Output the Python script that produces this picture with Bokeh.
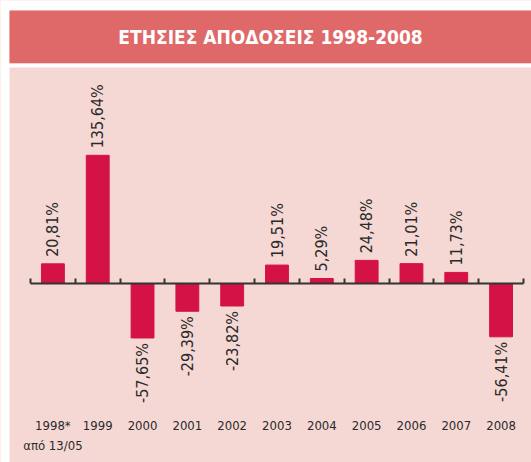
import math
from bokeh.plotting import figure
from bokeh.models import LinearAxis, FixedTicker, Label, Range1d, ColumnDataSource, BoxAnnotation
from bokeh.embed import file_html
from bokeh.resources import INLINE
from bokeh.core.properties import value

# ---- data ----
years = ["1998*", "1999", "2000", "2001", "2002", "2003", "2004", "2005", "2006", "2007", "2008"]
returns = [20.81, 135.64, -57.65, -29.39, -23.82, 19.51, 5.29, 24.48, 21.01, 11.73, -56.41]
value_labels = ["20,81%", "135,64%", "-57,65%", "-29,39%", "-23,82%", "19,51%",
                "5,29%", "24,48%", "21,01%", "11,73%", "-56,41%"]
title_text = "ΕΤΗΣΙΕΣ ΑΠΟΔΟΣΕΙΣ 1998-2008"
note_text = "από 13/05"

# ---- style ----
FONT = "DejaVu Sans Condensed"
TITLE_BG = "#DF6869"
PANEL_BG = "#F5D8D4"
BAR = "#D41245"
TXT = "#2A2A2A"
AXIS = "#333333"

# ---- layout (pixels inside the figure) ----
W, H = 531, 462
left_pad, right_pad = 30, 8     # frame edge -> first / last category boundary
zero_px = 283                    # zero line, from top of figure
k = 0.945                        # px per percentage point
n = len(years)
sx = (W - left_pad - right_pad) / n
x0, x1 = -left_pad / sx, n + right_pad / sx

def py(px_from_top):
    """pixel row (from top of figure) -> data y"""
    return (zero_px - px_from_top) / k

def px(px_from_left):
    """pixel column (from left of figure) -> data x"""
    return x0 + px_from_left / sx

p = figure(width=W, height=H,
           x_range=Range1d(x0, x1), y_range=Range1d(py(H), py(0)),
           x_axis_type=None, y_axis_type=None, toolbar_location=None,
           output_backend="svg", min_border=0,
           background_fill_color=PANEL_BG, border_fill_color=PANEL_BG,
           outline_line_color=None)
p.grid.visible = False

# page margins and title strip: white margin, red band, white gap
p.add_layout(BoxAnnotation(right=px(9), fill_color="white", fill_alpha=1, line_color=None))
p.add_layout(BoxAnnotation(bottom=py(10), fill_color="white", fill_alpha=1, line_color=None))
p.add_layout(BoxAnnotation(left=px(9), bottom=py(63), top=py(10), fill_color=TITLE_BG,
                           fill_alpha=1, line_color=None))
p.add_layout(BoxAnnotation(bottom=py(67), top=py(63), fill_color="white", fill_alpha=1,
                           line_color=None))
p.add_layout(Label(x=px(270), y=py(36.5), text=title_text, text_align="center",
                   text_baseline="middle", text_color="white",
                   text_font=FONT, text_font_style="bold", text_font_size="19px"))

centers = [i + 0.5 for i in range(n)]
p.vbar(x=centers, top=returns, bottom=0, width=0.51, color=BAR)

# zero line spanning the categories
p.segment(x0=[0], y0=[0], x1=[n], y1=[0], line_width=2, line_color=AXIS)

pos = ColumnDataSource(dict(
    x=[c for c, v in zip(centers, returns) if v >= 0],
    y=[v for v in returns if v >= 0],
    t=[l for l, v in zip(value_labels, returns) if v >= 0]))
neg = ColumnDataSource(dict(
    x=[c for c, v in zip(centers, returns) if v < 0],
    y=[v for v in returns if v < 0],
    t=[l for l, v in zip(value_labels, returns) if v < 0]))

p.text(x="x", y="y", text="t", source=pos, angle=math.pi / 2,
       text_align="left", text_baseline="middle", y_offset=-7,
       text_font=value(FONT), text_font_size="16px", text_color=TXT)
p.text(x="x", y="y", text="t", source=neg, angle=math.pi / 2,
       text_align="right", text_baseline="middle", y_offset=5,
       text_font=value(FONT), text_font_size="16px", text_color=TXT)

# boundary ticks on the zero line (no labels)
zero_axis = LinearAxis(fixed_location=0, ticker=FixedTicker(ticks=list(range(n + 1))),
                       axis_line_color=None,
                       major_tick_in=0, major_tick_out=5, major_tick_line_width=2,
                       major_tick_line_color=AXIS,
                       minor_tick_line_color=None,
                       major_label_text_color=None, major_label_standoff=0)
p.add_layout(zero_axis, "above")

# category labels + note
p.text(x=centers, y=[py(425)] * n, text=years, text_align="center", text_baseline="middle",
       text_font=value(FONT), text_font_size="13px", text_color=TXT)
p.add_layout(Label(x=centers[0], y=py(445), text=note_text, text_align="center",
                   text_baseline="middle", text_font=FONT, text_font_size="13px",
                   text_color=TXT))

open("out.html", "w").write(file_html(p, INLINE))
